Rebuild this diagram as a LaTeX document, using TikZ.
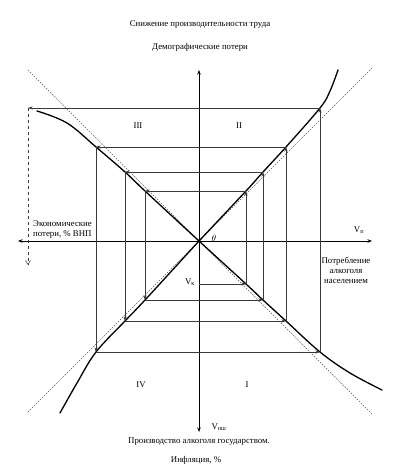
\documentclass[tikz,border=0pt]{standalone}
\usepackage{fontspec}
\setmainfont{Liberation Serif}
\usepackage{tikz}
\usetikzlibrary{positioning, arrows.meta}
\definecolor{tracegray}{HTML}{3A3A3A}
\definecolor{guidegray}{HTML}{5A5A5A}

\tikzset{
    axisline/.style={draw=black, line width=0.6pt,
        {Stealth[length=4.5pt,width=3.5pt]}-{Stealth[length=4.5pt,width=3.5pt]}},
    trace/.style={draw=tracegray, line width=0.55pt, -{Stealth[length=4.5pt,width=3pt]}},
    curve/.style={draw=black, line width=1.3pt, line cap=round},
    guide/.style={draw=guidegray, line width=0.5pt, dash pattern=on 1.6pt off 1.3pt},
    lbl/.style={font=\fontsize{8.8}{10}\selectfont, inner sep=1pt},
}

\begin{document}
\begin{tikzpicture}[x=1pt, y=1pt]
    \useasboundingbox (-199,-230) rectangle (197,241);

    % axes
    \coordinate (O) at (0,0);
    \coordinate (xl) at (-181,0);
    \coordinate (xr) at (173,0);
    \coordinate (yt) at (0,171);
    \coordinate (yb) at (0,-191);
    \draw[axisline] (xl) -- (xr);
    \draw[axisline] (yb) -- (yt);

    % points on the four curves
    \coordinate (q1a) at (47,-43);
    \coordinate (q1b) at (64,-59);
    \coordinate (q1c) at (87,-80);
    \coordinate (q1d) at (121,-111);
    \coordinate (q2a) at (47,50);
    \coordinate (q2b) at (64,69);
    \coordinate (q2c) at (87,94);
    \coordinate (q2d) at (121,133);
    \coordinate (q3a) at (-54,50);
    \coordinate (q3b) at (-74,69);
    \coordinate (q3c) at (-103,94);
    \coordinate (q4a) at (-54,-59);
    \coordinate (q4b) at (-74,-80);
    \coordinate (q4c) at (-103,-111);
    \coordinate (v0) at (0,-43);
    \coordinate (loss) at (-171,133);
    \coordinate (lossend) at (-171,-24);

    % dashed guides
    \draw[guide] (O) -- (173,173);
    \draw[guide] (O) -- (-171,171);
    \draw[guide] (O) -- (-172,-172);
    \draw[guide] (O) -- (173,-173);

    % curves
    \draw[curve] plot[smooth, tension=0.6] coordinates {(O) (q2a) (q2b) (q2c) (q2d) (131,150) (139,171)};
    \draw[curve] plot[smooth, tension=0.6] coordinates {(O) (q3a) (q3b) (q3c) (-132,118) (-162,130)};
    \draw[curve] plot[smooth, tension=0.6] coordinates {(O) (q4a) (q4b) (q4c) (-122,-142) (-139,-172)};
    \draw[curve] plot[smooth, tension=0.6] coordinates {(O) (q1a) (q1b) (q1c) (q1d) (151,-132) (183,-149)};
    \fill (O) circle (1.6pt);

    % spiral
    \draw[trace] (v0) -- (q1a);
    \draw[trace] (q1a) -- (q2a);
    \draw[trace] (q2a) -- (q3a);
    \draw[trace] (q3a) -- (q4a);
    \draw[trace] (q4a) -- (q1b);
    \draw[trace] (q1b) -- (q2b);
    \draw[trace] (q2b) -- (q3b);
    \draw[trace] (q3b) -- (q4b);
    \draw[trace] (q4b) -- (q1c);
    \draw[trace] (q1c) -- (q2c);
    \draw[trace] (q2c) -- (q3c);
    \draw[trace] (q3c) -- (q4c);
    \draw[trace] (q4c) -- (q1d);
    \draw[trace] (q1d) -- (q2d);
    \draw[trace] (q2d) -- (loss);
    \draw[trace, dashed, -{Straight Barb[length=4pt,width=5pt]}] (loss) -- (lossend);

    % labels
    \node[lbl] (drop) at (1,216) {Снижение производительности труда};
    \node[lbl] (demo) at (1,194) {Демографические потери};
    \node[lbl] (prod) at (0,-201) {Производство алкоголя государством.};
    \node[lbl] (infl) at (-3,-219) {Инфляция, \%};
    \node[lbl, align=left, anchor=west] (econ) at (-167,11) {Экономические\\потери, \% ВНП};
    \node[lbl, align=center] (cons) at (147,-29) {Потребление\\алкоголя\\населением};
    \node[lbl] (vp) at (160,11) {V\textsubscript{п}};
    \node[lbl] (vgp) at (20,-186) {V\textsubscript{пш}};
    \node[lbl] (vk) at (-9,-41) {V\textsubscript{к}};
    \node[lbl] (theta) at (15,3) {$\theta$};
    \node[lbl] (r3) at (-61,115) {III};
    \node[lbl] (r2) at (40,115) {II};
    \node[lbl] (r4) at (-58,-144) {IV};
    \node[lbl] (r1) at (48,-144) {I};
\end{tikzpicture}
\end{document}
